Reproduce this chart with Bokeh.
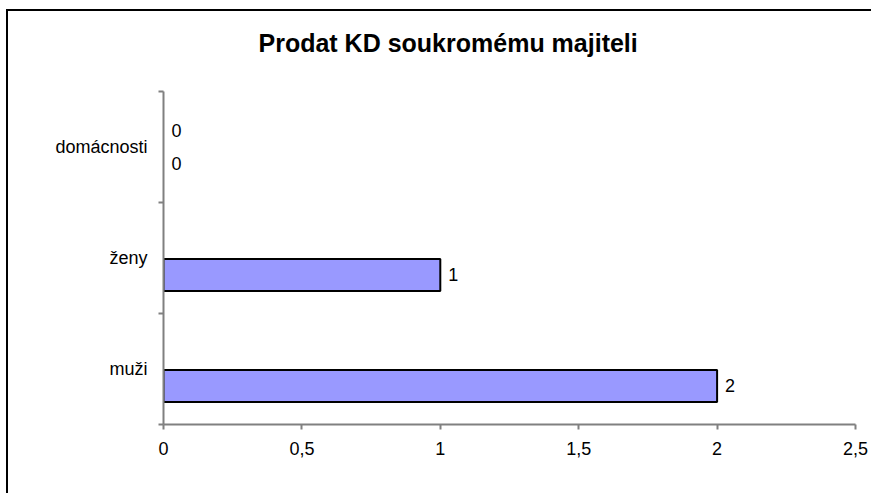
from bokeh.plotting import figure
from bokeh.models import ColumnDataSource, FixedTicker, CustomJSTickFormatter, Range1d, Title
from bokeh.core.properties import value
from bokeh.embed import file_html
from bokeh.resources import INLINE

# ---- data ----
categories = ["muži", "ženy", "domácnosti"]          # bottom -> top
series_top = [None, None, 0]                          # upper bar in each band
series_bottom = [2, 1, 0]                             # lower bar in each band
x_ticks = [0, 0.5, 1, 1.5, 2, 2.5]
title_text = "Prodat KD soukromému majiteli"

FONT = "Liberation Sans"
BAR_FILL = "#9999FF"
AXIS_COLOR = "#808080"
OFFSET = 0.153
BAR_H = 0.29

def rows(vals, off):
    xs, ys, labels = [], [], []
    for i, v in enumerate(vals):
        if v is None:
            continue
        xs.append(v)
        ys.append(i + 0.5 + off)
        labels.append(str(v))
    return dict(x=xs, y=ys, label=labels)

p = figure(width=865, height=484, output_backend="svg", toolbar_location=None,
           x_range=Range1d(0, 2.5), y_range=Range1d(0, len(categories)),
           min_border_left=155, min_border_right=18, min_border_top=80,
           min_border_bottom=71, title_location=None)
p.margin = (9, 0, 0, 6)
# spacer (closest to the frame), then the real title above it
p.add_layout(Title(text=" ", text_font_size="1px", standoff=27), "above")
p.add_layout(Title(text=title_text, text_font=FONT, text_font_size="25px",
                   text_color="black", text_font_style="bold", align="left",
                   offset=95, standoff=10), "above")
p.outline_line_color = None
p.xgrid.visible = False
p.ygrid.visible = False
p.styles = {"border-left": "2px solid #000000", "border-top": "2px solid #000000"}

for vals, off in ((series_top, OFFSET), (series_bottom, -OFFSET)):
    d = rows(vals, off)
    bars = {k: [v for v, x in zip(d[k], d["x"]) if x > 0] for k in d}
    p.hbar(y="y", right="x", left=0, height=BAR_H, source=ColumnDataSource(bars),
           fill_color=BAR_FILL, line_color="black", line_width=2)
    p.text(x="x", y="y", text="label", source=ColumnDataSource(d), x_offset=8,
           text_align="left", text_baseline="middle", text_font=value(FONT),
           text_font_size="18px", text_color="black")

# x axis
xa = p.xaxis[0]
xa.ticker = FixedTicker(ticks=x_ticks, minor_ticks=[])
xa.formatter = CustomJSTickFormatter(code="return tick.toString().replace('.', ',');")
xa.axis_line_color = AXIS_COLOR
xa.axis_line_width = 2
xa.major_tick_line_color = AXIS_COLOR
xa.major_tick_line_width = 2
xa.major_tick_in = 0
xa.major_tick_out = 5
xa.minor_tick_line_color = None
xa.major_label_standoff = 12
xa.major_label_text_font = FONT
xa.major_label_text_font_size = "18px"
xa.major_label_text_color = "black"

# y axis: labels at band centres, tick marks at band boundaries
ya = p.yaxis[0]
centres = [i + 0.5 for i in range(len(categories))]
bounds = [float(i) for i in range(len(categories) + 1)]
ya.ticker = FixedTicker(ticks=centres, minor_ticks=bounds)
ya.major_label_overrides = {c: cat for c, cat in zip(centres, categories)}
ya.axis_line_color = AXIS_COLOR
ya.axis_line_width = 2
ya.major_tick_line_color = None
ya.minor_tick_line_color = AXIS_COLOR
ya.minor_tick_line_width = 2
ya.minor_tick_in = 0
ya.minor_tick_out = 5
ya.major_tick_out = 0
ya.major_tick_in = 0
ya.major_label_standoff = 11
ya.major_label_text_font = FONT
ya.major_label_text_font_size = "18px"
ya.major_label_text_color = "black"

open("out.html", "w").write(file_html(p, INLINE))
